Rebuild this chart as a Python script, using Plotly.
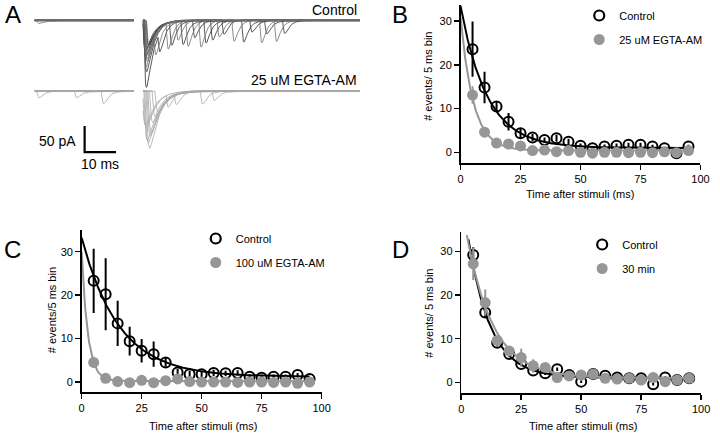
import numpy as np
import plotly.graph_objects as go

W, H = 720, 433
FONT = "Liberation Sans, Arial, sans-serif"
BLACK = "#000000"
GRAY = "#969696"

# ---------------- data: binned event counts (B, C, D) ----------------
BIN_T = [5, 10, 15, 20, 25, 30, 35, 40, 45, 50, 55, 60, 65, 70, 75, 80, 85, 90, 95]

B_CTRL = [23.6, 14.8, 10.5, 7.0, 4.35, 3.4, 2.8, 3.2, 2.4, 1.5, 0.9, 1.3, 1.5, 1.7, 1.7, 1.3, 0.9, -0.2, 1.3]
B_CTRL_ERR = [6.3, 3.6, 1.0, 2.0, 1.0, 0.8, 0.6, 0.8, 0.7, 0.5, 0.4, 0.5, 0.5, 0.5, 0.5, 0.4, 0.3, 0.3, 0.4]
B_EGTA = [13.1, 4.6, 2.1, 1.9, 1.45, 0.4, 0.5, 0.15, 0.4, 0.0, -0.2, 0.0, 0.0, -0.1, 0.0, -0.1, 0.1, -0.1, 0.4]
B_EGTA_ERR = [2.0, 0.8, 0.5, 0.5, 0.5, 0.3, 0.3, 0.2, 0.3, 0.2, 0.2, 0.2, 0.2, 0.2, 0.2, 0.2, 0.2, 0.2, 0.2]

C_CTRL = [23.3, 20.2, 13.5, 9.4, 7.2, 6.4, 4.5, 2.2, 1.8, 1.8, 2.1, 2.0, 2.1, 1.2, 1.0, 1.2, 1.2, 1.6, 0.7]
C_CTRL_ERR = [7.4, 8.3, 5.2, 3.3, 2.7, 2.9, 1.0, 0.8, 0.8, 0.7, 0.7, 0.6, 0.6, 0.5, 0.5, 0.5, 0.5, 0.5, 0.4]
C_EGTA = [4.5, 0.85, 0.1, -0.15, 0.4, -0.15, 0.3, 0.7, 0.1, 0.0, 0.0, 0.0, -0.1, 0.0, 0.0, -0.1, 0.0, -0.3, 0.0]
C_EGTA_ERR = [1.3, 0.5, 0.3, 0.3, 0.3, 0.2, 0.2, 0.2, 0.2, 0.2, 0.2, 0.2, 0.2, 0.2, 0.2, 0.2, 0.2, 0.2, 0.2]

D_CTRL = [29.2, 16.0, 9.1, 6.5, 4.2, 2.7, 2.1, 3.0, 1.7, 0.15, 1.9, 1.5, 1.1, 0.9, 0.9, -0.45, 1.1, 0.5, 0.9]
D_CTRL_ERR = [1.8, 1.0, 0.8, 0.6, 0.5, 0.4, 0.4, 0.4, 0.3, 0.3, 0.3, 0.3, 0.3, 0.3, 0.3, 0.3, 0.3, 0.3, 0.3]
D_30 = [27.2, 18.3, 9.6, 7.2, 5.7, 3.8, 3.4, 1.1, 1.45, 1.7, 1.9, 0.9, 0.75, 0.9, 0.5, 1.1, 0.15, 0.5, 0.9]
D_30_ERR = [3.7, 3.0, 1.0, 0.8, 2.0, 1.5, 0.8, 0.5, 0.4, 0.4, 0.4, 0.3, 0.3, 0.3, 0.3, 0.3, 0.3, 0.3, 0.3]

# single-exponential fits: amplitude, tau (ms), offset, start time, end time
FIT_B_CTRL = (32.5, 11.0, 1.0, 0.0, 95.0)
FIT_B_EGTA = (30.5, 5.3, 0.4, 0.0, 95.0)
FIT_C_CTRL = (32.0, 15.5, 1.2, 0.0, 95.0)
FIT_C_EGTA = (29.8, 2.6, 0.2, 0.0, 95.0)
FIT_D_CTRL = (43.9, 9.3, 1.0, 3.0, 95.0)
FIT_D_30 = (40.4, 11.0, 1.0, 2.3, 95.0)

LEG_B = ["Control", "25 uM EGTA-AM"]
LEG_C = ["Control", "100 uM EGTA-AM"]
LEG_D = ["Control", "30 min"]

# ---------------- data: panel A example traces ----------------
# each trace: (baseline shift pA, main EPSC time ms, main amplitude pA, [(event time ms, amp pA), ...])
A_CTRL_TRACES = [
    (0.0, 0.9, 129, [(5.3, 35), (22.0, 38)]),
    (0.6, 1.2, 80, [(7.9, 50), (28.8, 41)]),
    (-0.6, 0.7, 70, [(9.0, 45), (34.5, 22)]),
    (1.0, 1.4, 62, [(11.0, 38), (37.6, 44)]),
    (-1.0, 1.0, 55, [(12.6, 45), (39.2, 25)]),
    (0.3, 0.8, 90, [(14.2, 50), (42.3, 41)]),
    (-0.3, 1.6, 48, [(16.3, 33), (44.9, 25)]),
    (0.6, 1.1, 75, [(18.3, 52)]),
    (-0.6, 0.6, 58, [(19.9, 43), (31.9, 41)]),
    (0.0, 1.3, 66, [(24.1, 32)]),
    (1.2, 1.0, 100, [(25.6, 28)]),
    (-1.2, 1.8, 52, [(4.0, 40), (-33.2, 5)]),
]
A_EGTA_TRACES = [
    (0.0, 1.9, 110, [(-33.2, 13)]),
    (0.6, 1.2, 95, []),
    (-0.6, 2.5, 80, [(18.8, 24), (-12.7, 24)]),
    (1.0, 0.8, 70, [(7.9, 24)]),
    (-1.0, 3.0, 60, [(22.5, 17), (-21.25, 12)]),
    (0.3, 3.8, 50, [(10.5, 20)]),
    (-0.3, 4.7, 40, []),
    (0.6, 1.5, 100, []),
    (-0.6, 2.2, 85, []),
    (0.0, 0.6, 65, []),
]
A_EGTA_OFFSET = -136        # pA, vertical separation of the two trace groups
A_LEFT_SEG = (-34.6, -3.0)  # ms, pre-stimulus segment
A_RIGHT_SEG = (-0.2, 68.8)  # ms, post-stimulus segment
SCALE_MS, SCALE_PA = 10, 50


def kern(t, rise, decay):
    tt = np.clip(t, 0, None)
    k = np.where(t > 0, (1 - np.exp(-tt / rise)) * np.exp(-tt / decay), 0.0)
    grid = np.linspace(0, 30, 3001)
    g = (1 - np.exp(-grid / rise)) * np.exp(-grid / decay)
    return k / g.max(), grid[g.argmax()]


def build_traces(traces, offset, main_rise, main_decay):
    xs, ys = [], []
    segs = [np.arange(A_LEFT_SEG[0], A_LEFT_SEG[1], 0.1), np.arange(A_RIGHT_SEG[0], A_RIGHT_SEG[1], 0.1)]
    _, main_tp = kern(np.zeros(1), main_rise, main_decay)
    _, ev_tp = kern(np.zeros(1), 0.55, 1.4)
    for base, t0, amp, events in traces:
        for i, seg in enumerate(segs):
            y = np.full_like(seg, offset + base)
            if i == 1:
                y -= amp * kern(seg - t0 + main_tp, main_rise, main_decay)[0]
            for te, ae in events:
                y -= ae * kern(seg - te + ev_tp, 0.55, 1.4)[0]
            xs += list(np.round(seg, 2)) + [None]
            ys += list(np.round(y, 2)) + [None]
    return xs, ys


fig = go.Figure()

# ---------------- panel A ----------------
cx, cy = build_traces(A_CTRL_TRACES[::2], 0, 0.45, 2.4)
fig.add_trace(go.Scatter(x=cx, y=cy, mode="lines", line=dict(color="#2e2e2e", width=0.8),
                         xaxis="x", yaxis="y", showlegend=False, hoverinfo="skip"))
cx, cy = build_traces(A_CTRL_TRACES[1::2], 0, 0.45, 2.4)
fig.add_trace(go.Scatter(x=cx, y=cy, mode="lines", line=dict(color="#6e6e6e", width=0.8),
                         xaxis="x", yaxis="y", showlegend=False, hoverinfo="skip"))
ex, ey = build_traces(A_EGTA_TRACES, A_EGTA_OFFSET, 0.6, 3.0)
fig.add_trace(go.Scatter(x=ex, y=ey, mode="lines", line=dict(color="#a8a8a8", width=0.8),
                         xaxis="x", yaxis="y", showlegend=False, hoverinfo="skip"))

# scale bar (anchored at a fixed spot in panel A's data space)
sb_x0, sb_y0 = -18.75, -253.5
fig.add_trace(go.Scatter(x=[sb_x0, sb_x0, sb_x0 + SCALE_MS], y=[sb_y0 + SCALE_PA, sb_y0, sb_y0],
                         mode="lines", line=dict(color="black", width=2.2),
                         xaxis="x", yaxis="y", showlegend=False, hoverinfo="skip"))


# ---------------- panels B, C, D ----------------
def fit_curve(p):
    a, tau, c, t0, t1 = p
    t = np.linspace(t0, t1, 300)
    return t, a * np.exp(-t / tau) + c


def add_panel(xa, ya, ctrl, ctrl_err, other, other_err, fit_ctrl, fit_other, labels, legend):
    tx, ty = fit_curve(fit_ctrl)
    fig.add_trace(go.Scatter(x=tx, y=ty, mode="lines", line=dict(color=BLACK, width=2),
                             xaxis=xa, yaxis=ya, showlegend=False, hoverinfo="skip", cliponaxis=False))
    fig.add_trace(go.Scatter(x=BIN_T, y=ctrl, mode="markers",
                             error_y=dict(type="data", array=ctrl_err, color=BLACK, thickness=2, width=0),
                             marker=dict(symbol="circle-open", size=10, color=BLACK, line=dict(width=2)),
                             xaxis=xa, yaxis=ya, showlegend=False))
    tx, ty = fit_curve(fit_other)
    fig.add_trace(go.Scatter(x=tx, y=ty, mode="lines", line=dict(color=GRAY, width=2),
                             xaxis=xa, yaxis=ya, showlegend=False, hoverinfo="skip", cliponaxis=False))
    fig.add_trace(go.Scatter(x=BIN_T, y=other, mode="markers",
                             error_y=dict(type="data", array=other_err, color=GRAY, thickness=2, width=0),
                             marker=dict(symbol="circle", size=11, color=GRAY),
                             xaxis=xa, yaxis=ya, showlegend=False))
    # legend entries
    fig.add_trace(go.Scatter(x=[None], y=[None], mode="markers", name=labels[0], legend=legend,
                             legendgroup=legend + "a",
                             marker=dict(symbol="circle-open", size=10, color=BLACK, line=dict(width=2.2)),
                             xaxis=xa, yaxis=ya))
    fig.add_trace(go.Scatter(x=[None], y=[None], mode="markers", name=labels[1], legend=legend,
                             legendgroup=legend + "b",
                             marker=dict(symbol="circle", size=11, color=GRAY),
                             xaxis=xa, yaxis=ya))


add_panel("x2", "y2", B_CTRL, B_CTRL_ERR, B_EGTA, B_EGTA_ERR, FIT_B_CTRL, FIT_B_EGTA, LEG_B, "legend")
add_panel("x3", "y3", C_CTRL, C_CTRL_ERR, C_EGTA, C_EGTA_ERR, FIT_C_CTRL, FIT_C_EGTA, LEG_C, "legend2")
add_panel("x4", "y4", D_CTRL, D_CTRL_ERR, D_30, D_30_ERR, FIT_D_CTRL, FIT_D_30, LEG_D, "legend3")


def px(v):
    return v / W


def py(v):
    return 1 - v / H


axis_common = dict(showgrid=False, zeroline=False, showline=True, linecolor="black", linewidth=1.5,
                   ticks="outside", ticklen=5, tickwidth=1.5, tickcolor="black",
                   tickfont=dict(family=FONT, size=11, color="black"), fixedrange=True)

xcommon = dict(axis_common, range=[0, 100], tickvals=[0, 25, 50, 75, 100])
ycommon = dict(axis_common, tickvals=[0, 10, 20, 30])

layout = dict(
    width=W, height=H, margin=dict(l=0, r=0, t=0, b=0),
    paper_bgcolor="white", plot_bgcolor="white",
    font=dict(family=FONT, size=11, color="black"),
    xaxis=dict(domain=[px(30), px(366)], range=[(30 - 143) / 3.2, (366 - 143) / 3.2], visible=False,
               fixedrange=True),
    yaxis=dict(domain=[py(170), py(0)], range=[(20.3 - 170) / 0.52, 20.3 / 0.52], visible=False,
               fixedrange=True),
    xaxis2=dict(xcommon, domain=[px(465.3), px(709.3)], anchor="y2"),
    yaxis2=dict(ycommon, domain=[py(163), py(5)], range=[-2.45, 33.7], anchor="x2"),
    xaxis3=dict(xcommon, domain=[px(80), px(324)], anchor="y3"),
    yaxis3=dict(ycommon, domain=[py(392.3), py(230)], range=[-2.37, 35.0], anchor="x3"),
    xaxis4=dict(xcommon, domain=[px(466), px(710)], anchor="y4"),
    yaxis4=dict(ycommon, domain=[py(393), py(232)], range=[-2.46, 34.5], anchor="x4"),
)
leg_common = dict(font=dict(family=FONT, size=11, color="black"), bgcolor="rgba(0,0,0,0)",
                  xanchor="left", yanchor="top", traceorder="grouped", tracegroupgap=5,
                  itemsizing="trace")
layout["legend"] = dict(leg_common, x=px(586), y=py(1))
layout["legend2"] = dict(leg_common, x=px(196), y=py(224))
layout["legend3"] = dict(leg_common, x=px(589), y=py(230))
fig.update_layout(**layout)

ann = []


def text(x, y, s, size, xanchor="center", textangle=0):
    ann.append(dict(x=px(x), y=py(y), xref="paper", yref="paper", text=s, showarrow=False,
                    xanchor=xanchor, yanchor="middle", textangle=textangle,
                    font=dict(family=FONT, size=size, color="black")))


# panel letters
text(10, 15, "A", 24)
text(404, 15, "B", 24)
text(10, 250, "C", 24)
text(404, 250, "D", 24)
# panel A labels
text(362, 10, "Control", 14, xanchor="right")
text(362, 80, "25 uM EGTA-AM", 14, xanchor="right")
text(76, 141, "50 pA", 14, xanchor="right")
text(99, 164, "10 ms", 14)
# axis titles
text(432, 76, "# events/ 5 ms bin", 11, textangle=-90)
text(587, 194, "Time after stimuli (ms)", 11)
text(50, 310, "# events/5 ms bin", 11, textangle=-90)
text(203, 426, "Time after stimuli (ms)", 11)
text(433, 313, "# events/ 5 ms bin", 11, textangle=-90)
text(590, 426, "Time after stimuli (ms)", 11)
fig.update_layout(annotations=ann)

fig.write_html("out.html", config={"displayModeBar": False, "staticPlot": True},
               post_script="document.body.style.margin='0px';document.body.style.overflow='hidden';")
